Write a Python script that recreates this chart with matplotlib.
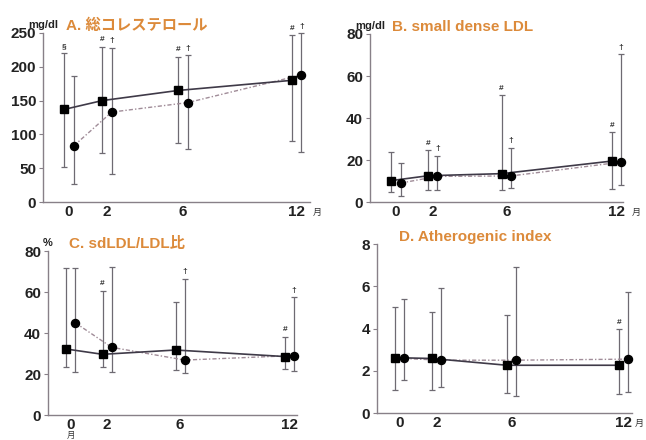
import numpy as np
import matplotlib
matplotlib.use("Agg")
import matplotlib.pyplot as plt

plt.rcParams['font.family'] = ['Liberation Sans', 'Noto Sans CJK JP', 'DejaVu Sans']

months = [0, 2, 6, 12]
month_labels = ['0', '2', '6', '12']

# A. total cholesterol (mg/dl)
a_sq = [137, 150, 165, 180]
a_sq_lo = [52, 73, 88, 90]
a_sq_hi = [220, 230, 215, 247]
a_ci = [83, 133, 147, 188]
a_ci_lo = [27, 41, 78, 74]
a_ci_hi = [187, 228, 217, 250]
a_sq_marks = ['§', '#', '#', '#']
a_ci_marks = ['', '†', '†', '†']

# B. small dense LDL (mg/dl)
b_sq = [10.2, 12.5, 13.5, 19.5]
b_sq_lo = [4.8, 5.6, 5.6, 6.3]
b_sq_hi = [23.8, 24.6, 50.8, 33.2]
b_ci = [9.0, 12.2, 12.4, 19.0]
b_ci_lo = [3.0, 5.6, 6.7, 7.9]
b_ci_hi = [18.6, 22.0, 25.9, 70.5]
b_sq_marks = ['', '#', '#', '#']
b_ci_marks = ['', '†', '†', '†']

# C. sdLDL/LDL ratio (%)
c_sq = [32.2, 29.6, 31.7, 28.5]
c_sq_lo = [23.6, 23.4, 22.0, 22.3]
c_sq_hi = [71.9, 60.7, 55.3, 38.2]
c_ci = [45.0, 33.0, 26.8, 29.0]
c_ci_lo = [21.1, 21.1, 20.6, 21.5]
c_ci_hi = [71.9, 72.4, 66.5, 57.4]
c_sq_marks = ['', '#', '', '#']
c_ci_marks = ['', '', '†', '†']

# D. atherogenic index
d_sq = [2.62, 2.58, 2.26, 2.26]
d_sq_lo = [1.07, 1.07, 0.95, 0.92]
d_sq_hi = [5.0, 4.76, 4.65, 3.97]
d_ci = [2.58, 2.5, 2.5, 2.55]
d_ci_lo = [1.55, 1.23, 0.79, 1.0]
d_ci_hi = [5.39, 5.93, 6.89, 5.75]
d_sq_marks = ['', '', '', '#']
d_ci_marks = ['', '', '', '']

W, H = 646, 440
fig = plt.figure(figsize=(W / 100, H / 100), dpi=100)

orange = '#dc8a3a'
grey = '#6e6a72'
sq_col = '#3f3a48'
ci_col = '#a08c98'


def panel(rect, title, unit, ymax, yticks, sq, sq_lo, sq_hi, ci, ci_lo, ci_hi,
          sq_marks, ci_marks, xlim, month_pos='right', month_x=12.85):
    l, t, r, b = rect
    ax = fig.add_axes([l / W, 1 - b / H, (r - l) / W, (b - t) / H])
    x = np.array(months, dtype=float)
    xs = x - 0.25
    xc = x + 0.25
    sq = np.array(sq); ci = np.array(ci)
    for eb in (ax.errorbar(xs, sq, yerr=[sq - np.array(sq_lo), np.array(sq_hi) - sq],
                           fmt='none', ecolor=grey, elinewidth=0.9, capsize=2.5,
                           capthick=0.9, zorder=2),
               ax.errorbar(xc, ci, yerr=[ci - np.array(ci_lo), np.array(ci_hi) - ci],
                           fmt='none', ecolor=grey, elinewidth=0.9, capsize=2.5,
                           capthick=0.9, zorder=2)):
        for art in eb.lines[1] + eb.lines[2]:
            art.set_clip_on(False)
    ax.plot(xc, ci, color=ci_col, lw=1.0, ls=(0, (3, 1.5, 1, 1.5)), zorder=3, clip_on=False)
    ax.plot(xs, sq, color=sq_col, lw=1.2, zorder=3, clip_on=False)
    ax.plot(xs, sq, ls='none', marker='s', ms=5.5, color='black', zorder=4, clip_on=False)
    ax.plot(xc, ci, ls='none', marker='o', ms=5.8, color='black', zorder=4, clip_on=False)
    off = ymax * 0.02
    for xi, hi, m in zip(xs, sq_hi, sq_marks):
        if m:
            ax.text(xi, hi + off, m, ha='center', va='bottom', fontsize=6,
                    color='#333333', fontweight='bold')
    for xi, hi, m in zip(xc, ci_hi, ci_marks):
        if m:
            ax.text(xi, hi + off, m, ha='center', va='bottom', fontsize=6,
                    color='#333333', fontweight='bold')
    ax.set_xlim(*xlim)
    ax.set_ylim(0, ymax)
    ax.set_yticks(yticks)
    ax.set_xticks(months)
    ax.set_xticklabels(month_labels)
    for s in ['top', 'right']:
        ax.spines[s].set_visible(False)
    for s in ['left', 'bottom']:
        ax.spines[s].set_color('#888088')
        ax.spines[s].set_linewidth(1.0)
    ax.tick_params(axis='y', length=3, width=0.8, color='#888088', labelsize=11, pad=2)
    ax.tick_params(axis='x', length=0, labelsize=11, pad=2)
    for lab in ax.get_xticklabels() + ax.get_yticklabels():
        lab.set_fontweight('bold')
        lab.set_color('#222222')
    ax.text(0.085, 1.0, title, transform=ax.transAxes, ha='left', va='bottom',
            fontsize=11, fontweight='bold', color=orange)
    if unit:
        ax.text(0.0, 1.02, unit, transform=ax.transAxes, ha='center', va='bottom',
                fontsize=8, fontweight='bold', color='#222222')
    if month_pos == 'right':
        ax.text(month_x, -0.035, '月', transform=ax.get_xaxis_transform(), ha='left',
                va='top', fontsize=6.5, color='#333333', family=['Noto Sans CJK JP'])
    else:
        ax.text(0, -0.095, '月', transform=ax.get_xaxis_transform(), ha='center',
                va='top', fontsize=6, color='#333333', family=['Noto Sans CJK JP'])
    return ax


panel((43, 33, 310, 202), 'A. 総コレステロール', 'mg/dl', 250, [0, 50, 100, 150, 200, 250],
      a_sq, a_sq_lo, a_sq_hi, a_ci, a_ci_lo, a_ci_hi, a_sq_marks, a_ci_marks, (-1.37, 12.7))
panel((370, 34, 623, 202), 'B. small dense LDL', 'mg/dl', 80, [0, 20, 40, 60, 80],
      b_sq, b_sq_lo, b_sq_hi, b_ci, b_ci_lo, b_ci_hi, b_sq_marks, b_ci_marks, (-1.41, 12.35))
panel((48, 251, 297, 415), 'C. sdLDL/LDL比', '%', 80, [0, 20, 40, 60, 80],
      c_sq, c_sq_lo, c_sq_hi, c_ci, c_ci_lo, c_ci_hi, c_sq_marks, c_ci_marks, (-1.24, 12.4),
      month_pos='below')
panel((377, 244, 632, 413), 'D. Atherogenic index', None, 8, [0, 2, 4, 6, 8],
      d_sq, d_sq_lo, d_sq_hi, d_ci, d_ci_lo, d_ci_hi, d_sq_marks, d_ci_marks, (-1.2, 12.45),
      month_x=12.6)

fig.savefig('out.png', dpi=100)
